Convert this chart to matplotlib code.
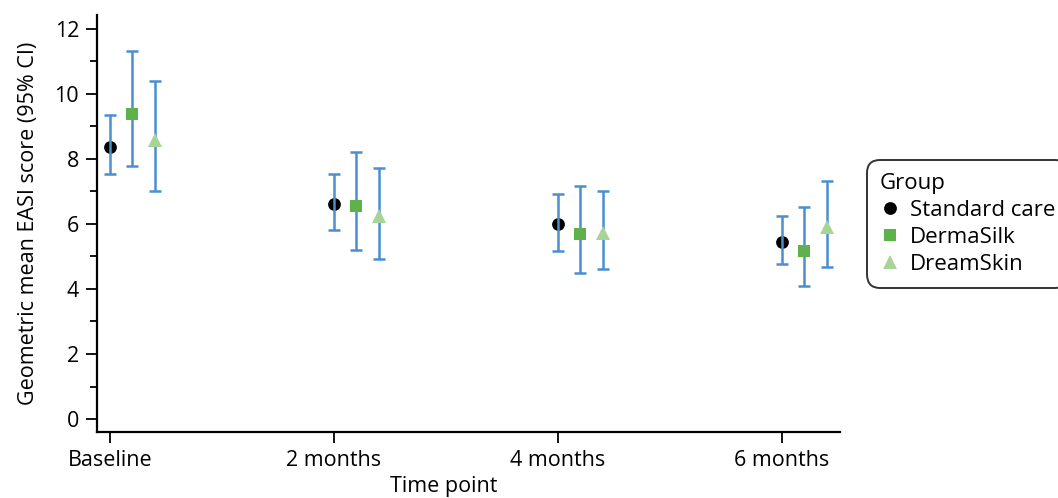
import matplotlib
matplotlib.use("Agg")
import matplotlib.pyplot as plt
import numpy as np

plt.rcParams['font.family'] = ['Open Sans', 'DejaVu Sans']

time_points = ["Baseline", "2 months", "4 months", "6 months"]
groups = ["Standard care", "DermaSilk", "DreamSkin"]

std_mean = [8.38, 6.62, 5.99, 5.46]
std_lo = [7.53, 5.82, 5.17, 4.78]
std_hi = [9.34, 7.53, 6.92, 6.24]

derma_mean = [9.38, 6.54, 5.68, 5.16]
derma_lo = [7.78, 5.20, 4.48, 4.09]
derma_hi = [11.32, 8.22, 7.18, 6.51]

dream_mean = [8.58, 6.24, 5.72, 5.91]
dream_lo = [7.02, 4.93, 4.62, 4.67]
dream_hi = [10.39, 7.71, 7.02, 7.33]

series = [
    (std_mean, std_lo, std_hi, 'o', '#000000', 9.2, 1),
    (derma_mean, derma_lo, derma_hi, 's', '#5fb14a', 9.0, 3),
    (dream_mean, dream_lo, dream_hi, '^', '#a8d49a', 10.0, 3),
]
offsets = [0.0, 0.1, 0.2]
bar_color = '#4b8fd0'
FS = 15.5

fig = plt.figure(figsize=(10.58, 4.98), dpi=100)
ax = fig.add_axes([0.0917, 0.1325, 0.794 - 0.0917, 0.970 - 0.1325])

x = np.arange(len(time_points))
handles = []
for (m, lo, hi, mk, col, ms, z), off, name in zip(series, offsets, groups):
    m = np.array(m); lo = np.array(lo); hi = np.array(hi)
    xs = x + off
    ax.errorbar(xs, m, yerr=[m - lo, hi - m], fmt='none', ecolor=bar_color,
                elinewidth=1.8, capsize=4.5, capthick=1.8, zorder=2)
    h, = ax.plot(xs, m, linestyle='none', marker=mk, color=col,
                 markersize=ms, markeredgewidth=0, zorder=z, label=name)
    handles.append(h)

ax.set_xlim(-0.058, 3.26)
ax.set_ylim(-0.4, 12.43)
ax.set_xticks(x)
ax.set_xticklabels(time_points)
ax.set_yticks(np.arange(0, 13, 2))
ax.set_yticks(np.arange(1, 13, 2), minor=True)

for s in ['top', 'right']:
    ax.spines[s].set_visible(False)
for s in ['left', 'bottom']:
    ax.spines[s].set_linewidth(1.6)

ax.tick_params(axis='x', which='major', length=8, width=1.3, labelsize=FS, pad=5)
ax.tick_params(axis='y', which='major', length=8, width=1.3, labelsize=FS, pad=5)
ax.tick_params(axis='y', which='minor', length=5, width=1.3)

ax.set_ylabel("Geometric mean EASI score (95% CI)", fontsize=FS)
ax.set_xlabel("Time point", fontsize=FS)
ax.yaxis.set_label_coords(-0.078, 0.5)
ax.xaxis.set_label_coords(0.466, -0.105)

leg = fig.legend(handles=handles, labels=groups, title="Group",
                 loc='upper left', bbox_to_anchor=(867 / 1058, 1 - 160 / 498),
                 fontsize=16, title_fontsize=16, frameon=True,
                 fancybox=True, edgecolor='black', handlelength=0.9,
                 handletextpad=0.45, borderpad=0.58, labelspacing=0.27,
                 alignment='left', borderaxespad=0)
leg.get_frame().set_linewidth(1.4)
leg.get_frame().set_boxstyle('round,pad=0,rounding_size=0.6')

fig.savefig("out.png", dpi=100)
